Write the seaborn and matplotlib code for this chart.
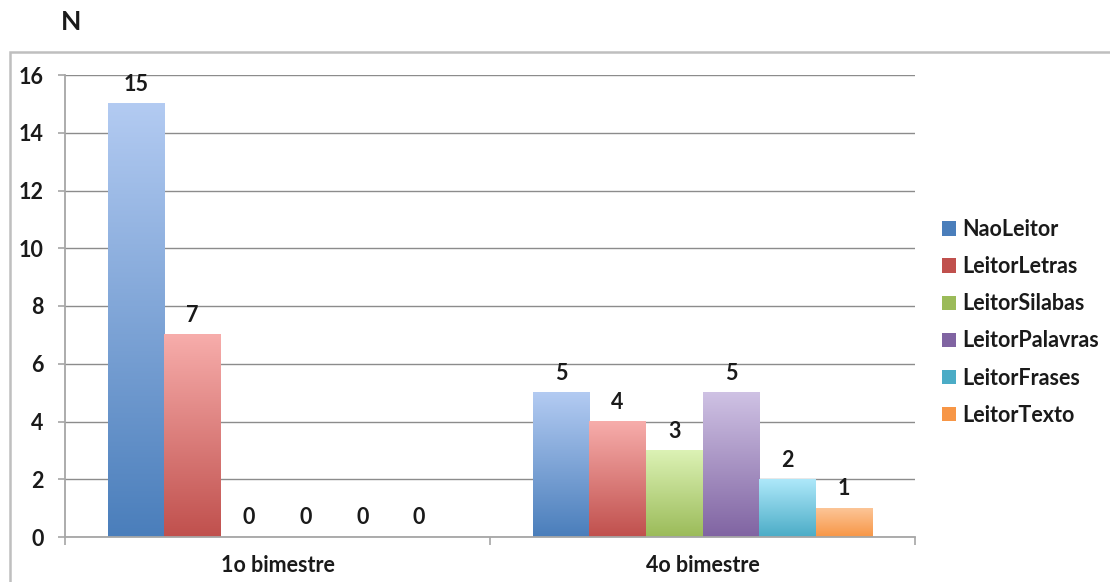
import numpy as np
import pandas as pd
import matplotlib
matplotlib.use("Agg")
import matplotlib.pyplot as plt
import seaborn as sns
from matplotlib.colors import LinearSegmentedColormap, to_rgb
from matplotlib.patches import Rectangle, Patch

periods = ["1o bimestre", "4o bimestre"]
series = ["NaoLeitor", "LeitorLetras", "LeitorSilabas", "LeitorPalavras", "LeitorFrases", "LeitorTexto"]
values_1o = [15, 7, 0, 0, 0, 0]
values_4o = [5, 4, 3, 5, 2, 1]
yticks = [0, 2, 4, 6, 8, 10, 12, 14, 16]

# gradient end colours per series (top, bottom)
top_colors = ["#b3cbf2", "#f7adab", "#dcf2b5", "#cfc2e4", "#aee8fa", "#fcc597"]
bottom_colors = ["#4a7ebb", "#c0504d", "#9bbb59", "#8064a2", "#4bacc6", "#f79646"]

df = pd.DataFrame({
    "periodo": np.repeat(periods, len(series)),
    "nivel": series * len(periods),
    "n": values_1o + values_4o,
})

sns.set_theme(style="white")
plt.rcParams["font.family"] = ["Lato", "DejaVu Sans"]
txt_color = "#1a1a1a"
fs = 15.5

fig = plt.figure(figsize=(11.10, 5.82), dpi=100)
ax = fig.add_axes([65 / 1110, 45 / 582, 850 / 1110, 462 / 582])

sns.barplot(data=df, x="periodo", y="n", hue="nivel", hue_order=series,
            palette=bottom_colors, width=0.8, ax=ax, legend=False,
            edgecolor="none", linewidth=0, saturation=1)

ax.set_xlabel("")
ax.set_ylabel("")

# vertical gradient fill for each bar
grad = np.linspace(1, 0, 256).reshape(-1, 1)
for container, top, bot in zip(ax.containers, top_colors, bottom_colors):
    cmap = LinearSegmentedColormap.from_list("g", [to_rgb(bot), to_rgb(top)])
    for patch, val in zip(container.patches, container.datavalues):
        x0 = patch.get_x()
        w = patch.get_width()
        h = patch.get_height()
        if h > 0:
            patch.set_alpha(0)
            ax.imshow(grad, cmap=cmap, aspect="auto",
                      extent=(x0, x0 + w, 0, h), origin="upper", zorder=2)
        ax.text(x0 + w / 2, h + 0.3, f"{val:g}", ha="center", va="bottom",
                fontsize=fs, fontweight="bold", color=txt_color, zorder=3)

ax.set_xlim(-0.5, 1.5)
ax.set_ylim(0, 16)
ax.set_yticks(yticks)

# gridlines and axes styling
ax.yaxis.grid(True, color="#8c8c8c", linewidth=1.0)
ax.set_axisbelow(True)
for s in ["top", "right"]:
    ax.spines[s].set_visible(False)
for s in ["left", "bottom"]:
    ax.spines[s].set_color("#a6a6a6")
    ax.spines[s].set_linewidth(1.3)

ax.tick_params(axis="y", which="major", length=5, width=1.2, color="#a6a6a6",
               labelsize=fs, labelcolor=txt_color, pad=10.5, left=True)
ax.set_yticklabels([str(t) for t in yticks], fontweight="bold")
ax.set_xticks(range(len(periods)))
ax.set_xticklabels(periods, fontweight="bold")
ax.tick_params(axis="x", which="major", length=0, labelsize=fs,
               labelcolor=txt_color, pad=13)
ax.set_xticks([-0.5, 0.5, 1.5], minor=True)
ax.tick_params(axis="x", which="minor", length=6, width=1.2, color="#a6a6a6", bottom=True)

# legend
handles = [Patch(facecolor=c, edgecolor="none") for c in bottom_colors]
leg = fig.legend(handles, series, loc="upper left", bbox_to_anchor=(942 / 1110, 1 - 219 / 582),
                 frameon=False, fontsize=fs, handlelength=0.65, handleheight=0.65,
                 handletextpad=0.3, labelspacing=0.75, borderaxespad=0, borderpad=0)
for t in leg.get_texts():
    t.set_fontweight("bold")
    t.set_color(txt_color)

# outer chart border
fig.patches.append(Rectangle((10 / 1110, -0.1), 1.2, 1.1 - 52 / 582, transform=fig.transFigure,
                             fill=False, edgecolor="#bfbfbf", linewidth=1.8))

fig.text(61 / 1110, 1 - 22 / 582, "N", fontsize=19, fontweight="bold",
         color=txt_color, ha="left", va="center")

fig.savefig("out.png", dpi=100)
